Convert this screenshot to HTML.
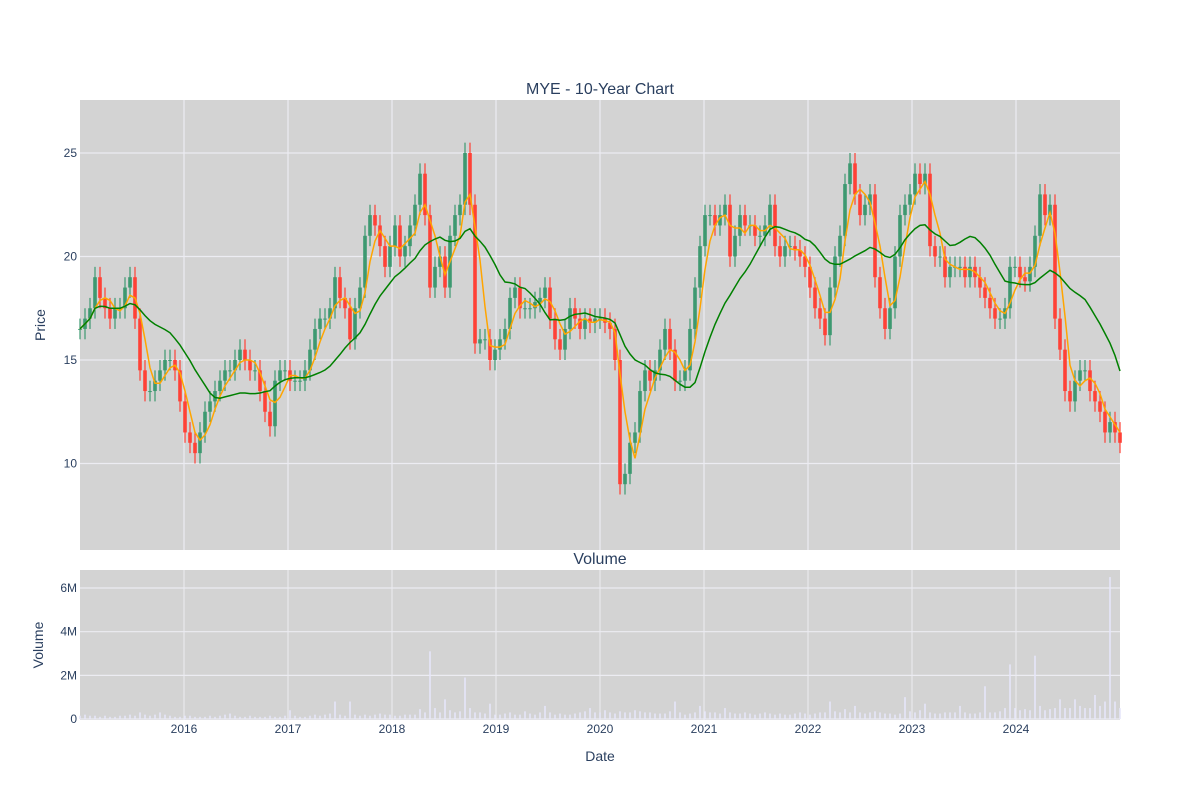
<!DOCTYPE html>
<html><head><meta charset="utf-8">
<style>
body{margin:0;background:#fff;font-family:"Liberation Sans",sans-serif;}
svg text{font-family:"Liberation Sans",sans-serif;fill:#2a3f5f;}
</style></head>
<body>
<svg id="chart" width="1200" height="800" viewBox="0 0 1200 800" xmlns="http://www.w3.org/2000/svg">
<rect width="1200" height="800" fill="#fff"/>
<text x="600" y="94" text-anchor="middle" font-size="16">MYE - 10-Year Chart</text>
<rect x="80" y="100" width="1040" height="450" fill="#d3d3d3"/>
<text x="600" y="564" text-anchor="middle" font-size="16">Volume</text>
<rect x="80" y="570" width="1040" height="150" fill="#d3d3d3"/>
<g id="grid"></g>
<g id="vol"></g>
<g id="candles"></g>
<g id="mas"></g>
<g id="axes"></g>
<text transform="translate(45,325) rotate(-90)" text-anchor="middle" font-size="14">Price</text>
<text transform="translate(43,645) rotate(-90)" text-anchor="middle" font-size="14">Volume</text>
<text x="600" y="761" text-anchor="middle" font-size="14">Date</text>
</svg>
<script>
const startYear = 2015.0;
const stepYears = 10 / 208;
const closes = [
16.5,17,17.5,19,18,17.5,17,17.5,17.5,18.5,
19,17,14.5,13.5,13.5,14,14.5,15,15,14.5,
13,11.5,11,10.5,11.5,12.5,13,13.5,14,14.5,
14.5,15,15.5,15,14.5,14.5,13.5,12.5,11.8,14,
14.5,14.5,14,14,14,14.5,15.5,16.5,17,17,
17.5,19,18,17.5,16,17.5,18.5,21,22,21.5,
20.5,19.5,20.5,21.5,20,20.5,21.5,22.5,24,22,
18.5,19.5,20,18.5,21,22,22.5,25,22.5,15.8,
16,16,15,15.5,16,16.5,18,18.5,17.5,17.5,
17.5,17.8,18,18.5,17,16,15.5,16.5,17.5,17,
16.5,17,16.8,17,17,16.8,16.5,15,9,9.5,
11,11.5,13.5,14.5,14,14.5,15.5,16.5,15.5,14,
14,14.5,16.5,18.5,20.5,22,22,21.5,22,22.5,
20,21,22,21.5,21.5,21,21,21.5,22.5,20.5,
20,20.5,20.5,20.3,20,19.5,18.5,17.5,17,16.2,
18.5,20,21,23.5,24.5,23,22,22.5,23,19,
17.5,16.5,17.5,20,22,22.5,23,24,23.5,24,
20.5,20,20,19,19.5,19.5,19.5,19,19.5,19,
18.5,18,17.5,17,17,17.5,19.5,19.5,19,18.8,
19.5,21,23,22,22.5,17,15.5,13.5,13,14,
14.5,14.5,13.5,13,12.5,11.5,12,11.5,11];
const volumesM = [
.15,.2,.15,.15,.1,.15,.1,.1,.15,.15,
.2,.15,.3,.2,.15,.2,.3,.2,.15,.1,
.1,.15,.15,.1,.1,.1,.15,.1,.15,.2,
.25,.15,.1,.1,.15,.1,.1,.1,.15,.1,
.1,.15,.4,.15,.1,.1,.15,.2,.15,.2,
.25,.8,.2,.15,.8,.2,.15,.2,.15,.2,
.25,.2,.2,.15,.15,.2,.2,.2,.45,.3,
3.1,.5,.3,.9,.4,.3,.35,1.9,.5,.3,
.3,.25,.7,.2,.2,.25,.3,.2,.2,.35,
.25,.2,.3,.6,.3,.2,.25,.2,.2,.25,
.3,.35,.5,.3,.3,.4,.3,.25,.35,.3,
.3,.4,.35,.3,.3,.25,.25,.25,.35,.8,
.3,.2,.25,.3,.6,.35,.3,.3,.25,.5,
.3,.25,.25,.3,.25,.2,.25,.3,.25,.2,
.25,.2,.2,.25,.3,.25,.2,.25,.3,.3,
.8,.35,.3,.45,.3,.6,.3,.25,.3,.35,
.3,.25,.25,.2,.25,1.0,.35,.3,.4,.7,
.3,.25,.25,.3,.3,.3,.6,.3,.25,.25,
.3,1.5,.3,.3,.35,.5,2.5,.5,.4,.45,
.4,2.9,.6,.4,.45,.5,.9,.5,.5,.9,
.6,.5,.5,1.1,.6,.8,6.5,.8,.5];
const yearTicks = [2016,2017,2018,2019,2020,2021,2022,2023,2024];
const priceTicks = [10,15,20,25];
const volTicks = [0,2,4,6];
const volTickLabels = ["0","2M","4M","6M"];

const NS = "http://www.w3.org/2000/svg";
function xS(yr){ return 80 + (yr - 2015) * 104; }
function yP(p){ return 153 + (25 - p) * 20.7; }
function yV(v){ return 719 - v * 21.83; }
function mk(tag, attrs, parent){
  const e = document.createElementNS(NS, tag);
  for (const k in attrs) e.setAttribute(k, attrs[k]);
  parent.appendChild(e); return e;
}
const grid = document.getElementById('grid');
const axes = document.getElementById('axes');
yearTicks.forEach(y => {
  const x = xS(y);
  let l = mk('line', {x1:x, x2:x, y1:100, y2:550, stroke:'#ececf2', 'stroke-width':1.2}, grid);
  
  
  let l2 = mk('line', {x1:x, x2:x, y1:570, y2:720, stroke:'#ececf2', 'stroke-width':1}, grid);
  
  
  let t = mk('text', {x:x, y:733, 'text-anchor':'middle', 'font-size':12}, axes);
  t.textContent = y;
  
  
});
priceTicks.forEach(p => {
  const y = yP(p);
  let l = mk('line', {x1:80, x2:1120, y1:y, y2:y, stroke:'#ececf2', 'stroke-width':1.2}, grid);
  
  
  let t = mk('text', {x:77, y:y+4, 'text-anchor':'end', 'font-size':12}, axes);
  t.textContent = p;
  
  
});
volTicks.forEach((v, i) => {
  const y = yV(v);
  let l = mk('line', {x1:80, x2:1120, y1:y, y2:y, stroke:'#ececf2', 'stroke-width':1.2}, grid);
  
  
  let t = mk('text', {x:77, y:y+4, 'text-anchor':'end', 'font-size':12}, axes);
  t.textContent = volTickLabels[i];
  
  
});
// volume bars
const vol = document.getElementById('vol');
volumesM.forEach((v, i) => {
  const x = xS(startYear + i * stepYears);
  const r = mk('rect', {x:x-0.8, y:yV(v), width:1.6, height:Math.max(0.5, 719 - yV(v)), fill:'#e6e6fa'}, vol);
  
  
});
// candles
const cg = document.getElementById('candles');
closes.forEach((c, i) => {
  const o = i === 0 ? c : closes[i-1];
  const x = xS(startYear + i * stepYears);
  const up = c >= o;
  const col = up ? '#3D9970' : '#FF4136';
  const hi = Math.max(o, c) + 0.5, lo = Math.min(o, c) - 0.5;
  const w = mk('line', {x1:x, x2:x, y1:yP(hi), y2:yP(lo), stroke:col, 'stroke-width':1.2}, cg);
  
  
  const top = yP(Math.max(o, c)), bot = yP(Math.min(o, c));
  const b = mk('rect', {x:x-1.8, y:top, width:3.6, height:Math.max(1, bot-top), fill:col}, cg);
  
  
});
// moving averages
function ma(win){
  return closes.map((_, i) => {
    const s = Math.max(0, i - win + 1);
    const sl = closes.slice(s, i + 1);
    return sl.reduce((a, b) => a + b, 0) / sl.length;
  });
}
const mg = document.getElementById('mas');
[[ma(4), 'orange', 'ma50-line'], [ma(16), 'green', 'ma200-line']].forEach(([arr, col, name]) => {
  const d = arr.map((v, i) => (i ? 'L' : 'M') + xS(startYear + i * stepYears).toFixed(1) + ',' + yP(v).toFixed(1)).join(' ');
  const p = mk('path', {d:d, fill:'none', stroke:col, 'stroke-width':1.5}, mg);
  
  
});
</script>
</body></html>
